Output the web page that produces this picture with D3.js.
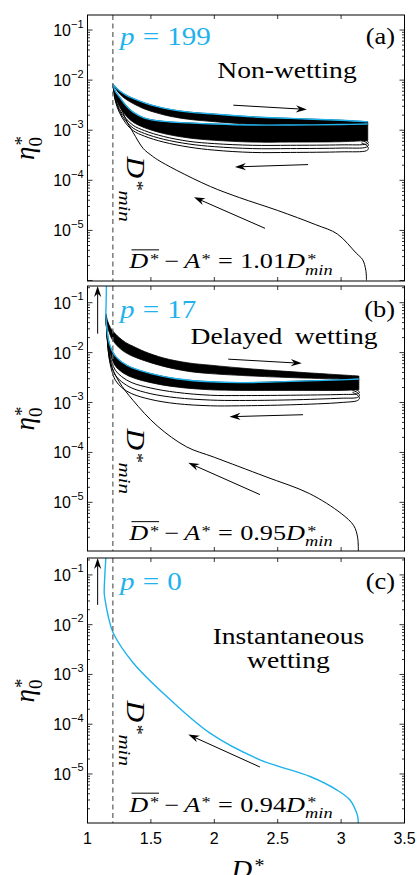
<!DOCTYPE html>
<html><head><meta charset="utf-8">
<script src="https://cdn.jsdelivr.net/npm/d3@7"></script>
<style>body{margin:0;background:#fff}svg{display:block}</style>
</head><body><svg id="chart" width="420" height="875"></svg>
<script>
// ================= DATA =================
const xTicks = [1, 1.5, 2, 2.5, 3, 3.5];
const xTickLabels = ["1", "1.5", "2", "2.5", "3", "3.5"];
const yTickExps = [-1, -2, -3, -4, -5];
const dMin = 1.2;
const panelTags = ["(a)", "(b)", "(c)"];
const pValues = ["199", "17", "0"];
const regimeLabels = [[["Non-wetting"]], [["Delayed", "wetting"]], [["Instantaneous"], ["wetting"]]];
const ratioValues = ["1.01", "0.95", "0.94"];

// ---- panel (a), p = 199 ----
const aApproachD   = [3.20, 3.195, 3.17, 3.12, 2.97, 2.8, 2.5, 2.2, 1.97, 1.7, 1.55, 1.5, 1.44, 1.36, 1.3, 1.25, 1.2];
const aApproachEta = [1e-6, 1.6e-6, 2.6e-6, 3.5e-6, 8.5e-6, 1.3e-5, 2.5e-5, 4.5e-5, 7.5e-5, 1.6e-4, 2.6e-4, 3.2e-4, 4.3e-4, 9e-4, 1.7e-3, 3.5e-3, 8.3e-3];
const aUpperD          = [1.2, 1.25, 1.3, 1.36, 1.45, 1.55, 1.65, 1.8, 2.0, 2.3, 2.6, 3.0, 3.21];
const aLimitUpperEta   = [8.3e-3, 6.2e-3, 5.1e-3, 4.3e-3, 3.5e-3, 2.95e-3, 2.6e-3, 2.3e-3, 2.1e-3, 1.85e-3, 1.72e-3, 1.58e-3, 1.47e-3];
const aUpperBandLowEta = [8.3e-3, 5.4e-3, 4.2e-3, 3.4e-3, 2.65e-3, 2.2e-3, 1.9e-3, 1.65e-3, 1.48e-3, 1.32e-3, 1.28e-3, 1.28e-3, 1.3e-3];
const aLowerD          = [3.21, 3.0, 2.6, 2.3, 2.0, 1.8, 1.6, 1.45, 1.36, 1.3, 1.25, 1.22, 1.2];
const aLimitLowerEta   = [1.33e-3, 1.3e-3, 1.27e-3, 1.27e-3, 1.33e-3, 1.4e-3, 1.5e-3, 1.75e-3, 2.3e-3, 3.2e-3, 4.7e-3, 6.0e-3, 8.3e-3];
const aLowerBandLowEta = [6.2e-4, 5.9e-4, 5.8e-4, 5.8e-4, 6.3e-4, 7e-4, 8.6e-4, 1.12e-3, 1.45e-3, 2.0e-3, 3.0e-3, 4.6e-3, 8.3e-3];
const aCycleD    = [3.16, 3.2, 3.215, 3.2, 3.0, 2.6, 2.3, 2.0, 1.8, 1.6, 1.45, 1.36, 1.3, 1.25, 1.22, 1.2];
const aCycle1Eta = [5.6e-4, 5.0e-4, 4.3e-4, 3.9e-4, 3.7e-4, 3.6e-4, 3.6e-4, 4.0e-4, 4.6e-4, 5.8e-4, 7.6e-4, 9.8e-4, 1.4e-3, 2.3e-3, 3.8e-3, 8.3e-3];
const aCycle2Eta = [6.2e-4, 5.7e-4, 5.1e-4, 4.6e-4, 4.4e-4, 4.3e-4, 4.3e-4, 4.7e-4, 5.3e-4, 6.6e-4, 8.6e-4, 1.1e-3, 1.55e-3, 2.5e-3, 4.0e-3, 8.3e-3];
const aCycle3Eta = [6.6e-4, 6.2e-4, 5.7e-4, 5.3e-4, 5.1e-4, 5.0e-4, 5.0e-4, 5.4e-4, 6.0e-4, 7.5e-4, 9.8e-4, 1.25e-3, 1.75e-3, 2.7e-3, 4.3e-3, 8.3e-3];

// ---- panel (b), p = 17 ----
const bApproachD   = [3.136, 3.13, 3.1, 3.0, 2.75, 2.4, 2.0, 1.78, 1.55, 1.36, 1.25, 1.18, 1.155, 1.145];
const bApproachEta = [1e-6, 2e-6, 3.4e-6, 6e-6, 1.5e-5, 3.3e-5, 8e-5, 1.3e-4, 3.4e-4, 1.1e-3, 2.6e-3, 6.3e-3, 2e-2, 5.5e-2];
const bUpperD          = [1.145, 1.16, 1.18, 1.2, 1.25, 1.3, 1.36, 1.45, 1.6, 1.8, 1.97, 2.3, 2.7, 3.14];
const bUpperTopEta     = [6e-2, 4.2e-2, 3.2e-2, 2.7e-2, 2e-2, 1.6e-2, 1.34e-2, 1.05e-2, 7.8e-3, 6.2e-3, 5.6e-3, 4.7e-3, 4e-3, 3.4e-3];
const bUpperLowEta     = [5.5e-2, 3.2e-2, 2.2e-2, 1.75e-2, 1.25e-2, 1.0e-2, 8.4e-3, 6.9e-3, 5.3e-3, 4.2e-3, 3.8e-3, 3.4e-3, 3.1e-3, 2.9e-3];
const bLowerD          = [3.14, 3.0, 2.6, 2.2, 1.97, 1.7, 1.5, 1.35, 1.27, 1.22, 1.19, 1.17, 1.155, 1.145];
const bLowerBandTopEta = [2.96e-3, 2.85e-3, 2.65e-3, 2.5e-3, 2.6e-3, 3.0e-3, 3.8e-3, 5e-3, 6.5e-3, 8.5e-3, 1.15e-2, 1.6e-2, 2.7e-2, 5.5e-2];
const bLowerBandLowEta = [1.8e-3, 1.75e-3, 1.75e-3, 1.75e-3, 1.8e-3, 2.05e-3, 2.5e-3, 3.2e-3, 4.1e-3, 5.4e-3, 7.8e-3, 1.18e-2, 2.25e-2, 5.5e-2];
const bCyanD   = [3.14, 3.0, 2.6, 2.2, 1.97, 1.7, 1.5, 1.35, 1.27, 1.22, 1.19, 1.17, 1.155, 1.145, 1.147, 1.15];
const bCyanEta = [2.96e-3, 2.85e-3, 2.65e-3, 2.5e-3, 2.6e-3, 3.0e-3, 3.8e-3, 5e-3, 6.5e-3, 8.5e-3, 1.15e-2, 1.6e-2, 2.7e-2, 5.5e-2, 0.1, 0.3];
const bCycleD    = [3.09, 3.13, 3.145, 3.13, 3.0, 2.6, 2.2, 1.97, 1.7, 1.5, 1.35, 1.27, 1.22, 1.19, 1.17, 1.155, 1.145];
const bCycle1Eta = [1.6e-3, 1.4e-3, 1.22e-3, 1.1e-3, 1.0e-3, 9e-4, 8.6e-4, 8.6e-4, 9.5e-4, 1.15e-3, 1.5e-3, 2.0e-3, 2.8e-3, 4.5e-3, 8e-3, 2e-2, 5.5e-2];
const bCycle2Eta = [1.75e-3, 1.58e-3, 1.4e-3, 1.27e-3, 1.22e-3, 1.13e-3, 1.1e-3, 1.12e-3, 1.25e-3, 1.5e-3, 1.95e-3, 2.6e-3, 3.5e-3, 5.5e-3, 9.5e-3, 2.1e-2, 5.5e-2];
const bCycle3Eta = [1.9e-3, 1.75e-3, 1.6e-3, 1.5e-3, 1.45e-3, 1.4e-3, 1.38e-3, 1.4e-3, 1.6e-3, 1.95e-3, 2.5e-3, 3.3e-3, 4.4e-3, 6.6e-3, 1.05e-2, 2.15e-2, 5.5e-2];

// ---- panel (c), p = 0 ----
const cCurveD   = [3.136, 3.133, 3.123, 3.07, 2.965, 2.755, 2.36, 1.966, 1.625, 1.361, 1.203, 1.164, 1.14, 1.132, 1.135, 1.146];
const cCurveEta = [1e-6, 1.3e-6, 1.64e-6, 3e-6, 4.8e-6, 8.9e-6, 1.93e-5, 6.6e-5, 3.6e-4, 1.7e-3, 6.8e-3, 1.46e-2, 3e-2, 4.3e-2, 8e-2, 0.25];

// ---- arrows: [D from, eta from, D to, eta to]; null eta = top edge ----
const aArrows = [[2.15, 3.16e-3, 2.73, 2.6e-3], [2.74, 2.06e-4, 2.163, 1.85e-4], [2.40, 1.1e-5, 1.84, 4.6e-5]];
const bArrows = [[2.11, 7.4e-3, 2.69, 6.1e-3], [2.70, 5.7e-4, 2.12, 5.2e-4], [2.36, 1.43e-5, 1.795, 6.2e-5], [1.08, 2.4e-2, 1.08, null]];
const cArrows = [[1.08, 2.5e-2, 1.08, null], [2.36, 1.38e-5, 1.795, 6.2e-5]];

// ================= DRAWING =================
const SERIF = "'Liberation Serif','Times New Roman',serif";
const SANS = "'Liberation Sans',Arial,sans-serif";
const CYAN = "#1fb2ec";
const svg = d3.select("#chart");
const x = d3.scaleLinear().domain([1, 3.5]).range([87.5, 404.5]);
const zip = (ds, es) => ds.map((d, i) => [d, es[i]]);

const panels = [
  { top: 15, bottom: 281, yDom: [Math.pow(10, -6.01), Math.pow(10, -0.7)],
    bands: [[aUpperD, aLimitUpperEta, aUpperD, aUpperBandLowEta], [aLowerD, aLimitLowerEta, aLowerD, aLowerBandLowEta]],
    black: [zip(aApproachD, aApproachEta), zip(aCycleD, aCycle1Eta), zip(aCycleD, aCycle2Eta), zip(aCycleD, aCycle3Eta)],
    cyan: [zip(aUpperD, aLimitUpperEta), zip(aLowerD, aLimitLowerEta)],
    arrows: aArrows, regimeAt: [2.573, [1.1e-2]] },
  { top: 286, bottom: 551, yDom: [Math.pow(10, -5.975), Math.pow(10, -0.665)],
    bands: [[bUpperD, bUpperTopEta, bUpperD, bUpperLowEta], [bLowerD, bLowerBandTopEta, bLowerD, bLowerBandLowEta]],
    black: [zip(bApproachD, bApproachEta), zip(bCycleD, bCycle1Eta), zip(bCycleD, bCycle2Eta), zip(bCycleD, bCycle3Eta)],
    cyan: [zip(bCyanD, bCyanEta)],
    arrows: bArrows, regimeAt: [2.55, [1.5e-2]] },
  { top: 558, bottom: 823, yDom: [Math.pow(10, -5.985), Math.pow(10, -0.66)],
    bands: [], black: [],
    cyan: [zip(cCurveD, cCurveEta)],
    arrows: cArrows, regimeAt: [2.585, [4e-3, 1.35e-3]] }
];

function mathText(parent, segs, F, color, sx) {
  const g = parent.append("g");
  const inner = g.append("g").attr("transform", `scale(${sx},1)`);
  let cx = 0, hold = null, o0 = null, o1 = null;
  segs.forEach(s => {
    const fs = F * (s.s || 1);
    const x0 = cx + (s.pre || 0) * F;
    const t = inner.append("text").attr("x", x0).attr("y", (s.dy || 0) * F)
      .attr("font-size", fs).attr("font-family", SERIF)
      .attr("font-style", s.it ? "italic" : "normal").attr("fill", color).text(s.t);
    const w = t.node().getComputedTextLength();
    const x1 = x0 + w + (s.post || 0) * F;
    if (s.over) { if (o0 === null) o0 = x0; o1 = x0 + w; }
    if (s.hold) { hold = x1; }
    else { cx = hold !== null ? Math.max(hold, x1) : x1; hold = null; }
  });
  if (o0 !== null) inner.append("line").attr("x1", o0 + 0.08 * F).attr("x2", o1).attr("y1", -0.88 * F).attr("y2", -0.88 * F)
    .attr("stroke", color).attr("stroke-width", 1);
  g.node().__w = cx * sx;
  return g;
}

function arrow(g, p1, p2) {
  const [x1, y1] = p1, [x2, y2] = p2;
  const ang = Math.atan2(y2 - y1, x2 - x1);
  const L = 11, Wd = 3.6, N = 7.5;
  const ca = Math.cos(ang), sa = Math.sin(ang);
  const pt = (a, b) => [x2 - a * ca + b * sa, y2 - a * sa - b * ca];
  const nb = pt(N, 0);
  g.append("line").attr("x1", x1).attr("y1", y1).attr("x2", nb[0]).attr("y2", nb[1])
    .attr("stroke", "#000").attr("stroke-width", 1);
  const pA = pt(L, Wd), pB = pt(L, -Wd);
  g.append("path").attr("d", `M${x2},${y2}L${pA}L${nb}L${pB}Z`).attr("fill", "#000");
}

panels.forEach((P, i) => {
  const y = d3.scaleLog().domain(P.yDom).range([P.bottom, P.top]);
  const g = svg.append("g");
  const clipId = "clip" + i;
  g.append("clipPath").attr("id", clipId).append("rect")
    .attr("x", x(1)).attr("y", P.top).attr("width", x(3.5) - x(1)).attr("height", P.bottom - P.top);
  const plot = g.append("g").attr("clip-path", `url(#${clipId})`);
  const line = d3.line().x(d => x(d[0])).y(d => y(d[1])).curve(d3.curveCatmullRom.alpha(0.5));

  // dense bands of cycles
  P.bands.forEach(([dT, eT, dB, eB]) => {
    const top = zip(dT, eT), bot = zip(dB, eB).reverse();
    const d = line(top) + "L" + line(bot).slice(1) + "Z";
    plot.append("path").attr("d", d).attr("fill", "#000").attr("stroke", "#000").attr("stroke-width", 0.8);
  });
  P.black.forEach(pts => plot.append("path").attr("d", line(pts)).attr("fill", "none")
    .attr("stroke", "#000").attr("stroke-width", 1));
  P.cyan.forEach(pts => plot.append("path").attr("d", line(pts)).attr("fill", "none")
    .attr("stroke", CYAN).attr("stroke-width", 1.4));

  // D*_min dashed line
  g.append("line").attr("x1", x(dMin)).attr("x2", x(dMin)).attr("y1", P.top).attr("y2", P.bottom)
    .attr("stroke", "#666").attr("stroke-width", 1.3).attr("stroke-dasharray", "5,3.5");

  // arrows
  P.arrows.forEach(a => arrow(g, [x(a[0]), y(a[1])], [x(a[2]), a[3] === null ? P.top : y(a[3])]));

  // frame
  g.append("rect").attr("x", x(1)).attr("y", P.top).attr("width", x(3.5) - x(1)).attr("height", P.bottom - P.top)
    .attr("fill", "none").attr("stroke", "#000").attr("stroke-width", 1);

  // y ticks (major + minor, both sides)
  const tg = g.append("g").attr("stroke", "#000").attr("stroke-width", 0.8);
  for (let k = -6; k <= -1; k++) {
    for (let m = 1; m <= 9; m++) {
      const v = m * Math.pow(10, k);
      if (v < P.yDom[0] * 0.999 || v > P.yDom[1]) continue;
      const len = m === 1 ? 5 : 2.5, yy = y(v);
      tg.append("line").attr("x1", x(1)).attr("x2", x(1) + len).attr("y1", yy).attr("y2", yy);
      tg.append("line").attr("x1", x(3.5)).attr("x2", x(3.5) - len).attr("y1", yy).attr("y2", yy);
    }
  }
  xTicks.forEach(t => {
    tg.append("line").attr("x1", x(t)).attr("x2", x(t)).attr("y1", P.bottom).attr("y2", P.bottom - 4);
    tg.append("line").attr("x1", x(t)).attr("x2", x(t)).attr("y1", P.top).attr("y2", P.top + 4);
  });
  // y tick labels
  yTickExps.forEach(e => {
    const yy = y(Math.pow(10, e));
    const t = g.append("text").attr("x", x(1) - 4).attr("y", yy + 6).attr("text-anchor", "end")
      .attr("font-family", SANS).attr("font-size", 16).attr("fill", "#000");
    t.append("tspan").text("10");
    t.append("tspan").attr("dy", -8.5).attr("font-size", 11).text("\u2212" + Math.abs(e));
  });

  // y axis title eta*_0
  const yt = mathText(g, [{ t: "\u03b7", it: 1 }, { t: "*", s: 0.7, dy: -0.22, pre: 0.04, hold: 1 }, { t: "0", s: 0.7, dy: 0.3 }], 27, "#000", 1);
  yt.attr("transform", `translate(34,${(P.top + P.bottom) / 2 + 12}) rotate(-90)`);

  // p label
  const pl = mathText(g, [{ t: "p", it: 1 }, { t: "=", pre: 0.28, post: 0.28 }, { t: pValues[i] }], 26, CYAN, 1.12);
  pl.attr("transform", `translate(${x(1.256)},${y(0.05)})`);
  // tag
  const tag = mathText(g, [{ t: panelTags[i] }], 24, "#000", 1.1);
  tag.attr("transform", `translate(${x(3.425) - tag.node().__w},${y(0.052)})`);
  // regime label(s)
  regimeLabels[i].forEach((words, j) => {
    const segs = words.map((w, k) => ({ t: w, pre: k ? 0.45 : 0 }));
    const r = mathText(g, segs, 23, "#000", 1.2);
    r.attr("transform", `translate(${x(P.regimeAt[0]) - r.node().__w / 2},${y(P.regimeAt[1][j])})`);
  });
  // rotated D*_min
  const dm = mathText(g, [{ t: "D", it: 1 }, { t: "*", s: 0.7, dy: -0.22, pre: 0.08 }, { t: "min", it: 1, s: 0.7, dy: 0.3, pre: -0.02 }], 25, "#000", 1.2);
  dm.attr("transform", `translate(${x(1.31)},${y(3.0e-4)}) rotate(90)`);
  // formula
  const fm = mathText(g, [
    { t: "D", it: 1, over: 1 }, { t: "*", s: 0.7, dy: -0.2, pre: 0.06, over: 1 },
    { t: "\u2212", pre: 0.2, post: 0.2 }, { t: "A", it: 1 }, { t: "*", s: 0.7, dy: -0.2, pre: 0.04 },
    { t: "=", pre: 0.28, post: 0.28 }, { t: ratioValues[i] }, { t: "D", it: 1 },
    { t: "*", s: 0.7, dy: -0.2, pre: 0.08, hold: 1 }, { t: "min", it: 1, s: 0.7, dy: 0.3 }], 21, "#000", 1.25);
  fm.attr("transform", `translate(${x(1.33)},${y(1.75e-6)})`);

  if (i === 2) {
    xTicks.forEach((t, j) => g.append("text").attr("x", x(t)).attr("y", P.bottom + 20.5).attr("text-anchor", "middle")
      .attr("font-family", SANS).attr("font-size", 16).text(xTickLabels[j]));
    const xt = mathText(g, [{ t: "D", it: 1 }, { t: "*", s: 0.7, dy: -0.22, pre: 0.08 }], 26, "#000", 1.1);
    xt.attr("transform", `translate(${(x(1) + x(3.5)) / 2 - xt.node().__w / 2 + 2},878)`);
  }
});
</script></body></html>
